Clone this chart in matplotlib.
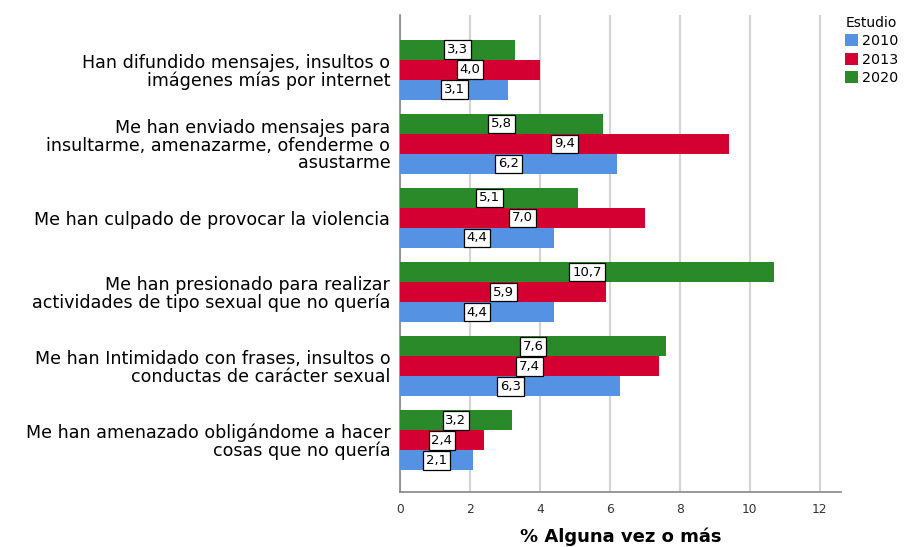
import matplotlib
matplotlib.use("Agg")
import matplotlib.pyplot as plt
import numpy as np
from matplotlib.patches import Patch

plt.rcParams['font.family'] = ['DejaVu Sans']

categories = [
    "Han difundido mensajes, insultos o\nimágenes mías por internet",
    "Me han enviado mensajes para\ninsultarme, amenazarme, ofenderme o\nasustarme",
    "Me han culpado de provocar la violencia",
    "Me han presionado para realizar\nactividades de tipo sexual que no quería",
    "Me han Intimidado con frases, insultos o\nconductas de carácter sexual",
    "Me han amenazado obligándome a hacer\ncosas que no quería",
]
years = ["2010", "2013", "2020"]
values_2010 = [3.1, 6.2, 4.4, 4.4, 6.3, 2.1]
values_2013 = [4.0, 9.4, 7.0, 5.9, 7.4, 2.4]
values_2020 = [3.3, 5.8, 5.1, 10.7, 7.6, 3.2]
colors = {"2010": "#5592E3", "2013": "#D50032", "2020": "#2A8A2A"}
xticks = [0, 2, 4, 6, 8, 10, 12]

fig = plt.figure(figsize=(9.05, 5.47), dpi=100)
ax = fig.add_axes([0.442, 0.1005, 0.487, 0.872])

h = 0.27
y = np.arange(len(categories))
series = [("2020", values_2020, -h), ("2013", values_2013, 0.0), ("2010", values_2010, h)]
for yr, vals, off in series:
    ax.barh(y + off, vals, height=h, color=colors[yr], zorder=3)
    for yi, v in zip(y, vals):
        ax.text(v / 2, yi + off, f"{v:.1f}".replace(".", ","), ha="center", va="center",
                fontsize=9.5, zorder=5,
                bbox=dict(boxstyle="square,pad=0.22", fc="white", ec="black", lw=0.9))

ax.set_ylim(5.70, -0.74)
ax.set_xlim(0, 12.6)
ax.set_yticks(y)
ax.set_yticklabels(categories, fontsize=12.6, ha="right", multialignment="right", linespacing=0.97)
ax.set_xticks(xticks)
ax.set_xticklabels([str(t) for t in xticks], fontsize=8.8, color="#333333")
ax.tick_params(axis="y", length=0, pad=7)
ax.tick_params(axis="x", length=0, pad=8)
ax.grid(axis="x", color="#D4D4D4", lw=1.6, zorder=0)
for s in ["top", "right"]:
    ax.spines[s].set_visible(False)
ax.spines["left"].set_color("#888888")
ax.spines["bottom"].set_color("#888888")
ax.spines["left"].set_linewidth(1.2)
ax.spines["bottom"].set_linewidth(1.2)
ax.set_xlabel("% Alguna vez o más", fontsize=13, fontweight="bold", labelpad=8)

handles = [Patch(facecolor=colors[yr], edgecolor="none") for yr in years]
leg = fig.legend(handles, years, title="Estudio", loc="upper left",
                 bbox_to_anchor=(0.931, 0.976), frameon=False, fontsize=10.3,
                 title_fontsize=10, handlelength=0.9, handleheight=0.9,
                 handletextpad=0.25, labelspacing=0.3, borderpad=0.2,
                 borderaxespad=0)
leg._legend_box.align = "left"

fig.savefig("out.png", dpi=100)
